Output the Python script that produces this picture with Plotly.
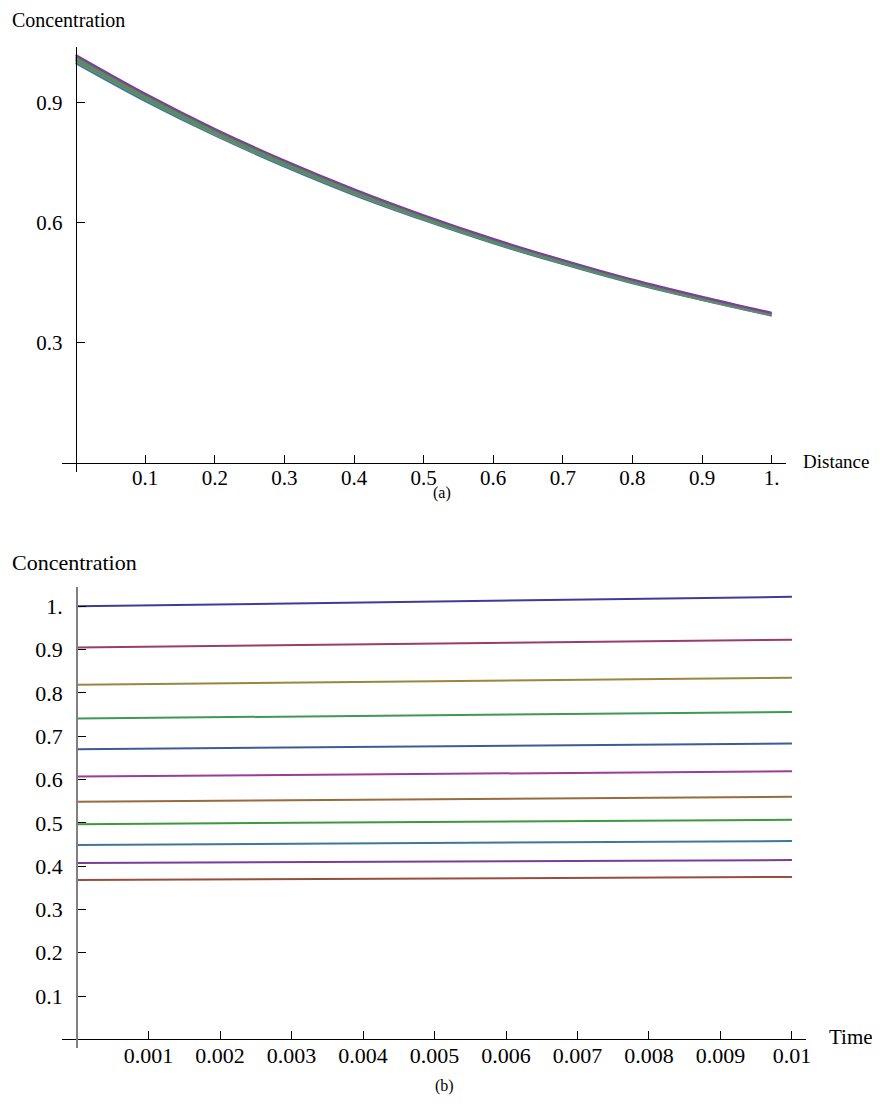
import plotly.graph_objects as go

# ---------------- data ----------------
# Panel (a): concentration vs distance at several times
distance = [0.0, 0.1, 0.2, 0.3, 0.4, 0.5, 0.6, 0.7, 0.8, 0.9, 1.0]
conc_t0000 = [1.000, 0.905, 0.819, 0.741, 0.670, 0.607, 0.549, 0.497, 0.449, 0.407, 0.368]
conc_t0002 = [1.004, 0.909, 0.822, 0.744, 0.673, 0.609, 0.551, 0.499, 0.451, 0.408, 0.369]
conc_t0004 = [1.008, 0.912, 0.826, 0.747, 0.676, 0.612, 0.553, 0.501, 0.453, 0.410, 0.371]
conc_t0006 = [1.012, 0.916, 0.829, 0.750, 0.678, 0.614, 0.556, 0.503, 0.455, 0.411, 0.372]
conc_t0008 = [1.016, 0.920, 0.832, 0.753, 0.681, 0.616, 0.558, 0.505, 0.456, 0.413, 0.374]
conc_t0010 = [1.020, 0.923, 0.835, 0.756, 0.684, 0.619, 0.560, 0.507, 0.458, 0.415, 0.375]
curves_a = [conc_t0000, conc_t0002, conc_t0004, conc_t0006, conc_t0008, conc_t0010]

# Panel (b): concentration vs time at 11 distances
time = [0.0, 0.01]
conc_start = [1.000, 0.905, 0.819, 0.741, 0.670, 0.607, 0.549, 0.497, 0.449, 0.407, 0.368]
conc_end = [1.022, 0.923, 0.835, 0.756, 0.683, 0.619, 0.560, 0.507, 0.458, 0.414, 0.375]

# tick labels
a_xticks = [0.1, 0.2, 0.3, 0.4, 0.5, 0.6, 0.7, 0.8, 0.9, 1.0]
a_xlabels = ["0.1", "0.2", "0.3", "0.4", "0.5", "0.6", "0.7", "0.8", "0.9", "1."]
a_yticks = [0.3, 0.6, 0.9]
a_ylabels = ["0.3", "0.6", "0.9"]
b_xticks = [0.001, 0.002, 0.003, 0.004, 0.005, 0.006, 0.007, 0.008, 0.009, 0.01]
b_xlabels = ["0.001", "0.002", "0.003", "0.004", "0.005", "0.006", "0.007", "0.008", "0.009", "0.01"]
b_yticks = [0.1, 0.2, 0.3, 0.4, 0.5, 0.6, 0.7, 0.8, 0.9, 1.0]
b_ylabels = ["0.1", "0.2", "0.3", "0.4", "0.5", "0.6", "0.7", "0.8", "0.9", "1."]

# ---------------- style ----------------
palette = ["#3d3d99", "#993d6b", "#99873d", "#3d9954", "#3d5a99", "#993d99",
           "#996b3d", "#3d993d", "#3d7899", "#783d99", "#994d3d"]
colors_a = ["#3d7899", "#808080", "#3d9954", "#7a7a7a", "#3d993d", "#803d9e"]
FONT = "Liberation Serif, Times New Roman, serif"

fig = go.Figure()

for c, col in zip(curves_a, colors_a):
    fig.add_trace(go.Scatter(x=distance, y=c, mode="lines", line=dict(color=col, width=2.2, shape="spline"),
                             xaxis="x", yaxis="y", showlegend=False, hoverinfo="skip"))

for i, (s, e) in enumerate(zip(conc_start, conc_end)):
    fig.add_trace(go.Scatter(x=time, y=[s, e], mode="lines", line=dict(color=palette[i % len(palette)], width=2),
                             xaxis="x2", yaxis="y2", showlegend=False, hoverinfo="skip"))

# page has an 8px body margin: window pixel (X, Y) -> figure pixel (X-8, Y-8)
OFF = 8
W, H = 872, 1104

def px(x):
    return (x - OFF) / W

def py(y):
    return 1 - (y - OFF) / H

common = dict(showgrid=False, zeroline=False, showline=True, linecolor="black", linewidth=1,
              ticks="inside", ticklen=8, tickwidth=1, tickcolor="black", anchor="free",
              tickmode="array")

fig.update_layout(
    width=W, height=H, margin=dict(l=0, r=0, t=0, b=0),
    paper_bgcolor="white", plot_bgcolor="white",
    font=dict(family=FONT, color="black"),
    xaxis=dict(**common, domain=[px(62), px(790)], range=[-0.02, 1.02], position=py(462.7),
               tickvals=a_xticks, ticktext=a_xlabels, tickfont=dict(size=21, family=FONT),
               ticklabelstandoff=-4),
    yaxis=dict(**common, domain=[py(471.7), py(47)], range=[-0.0225, 1.04], position=px(76),
               tickvals=a_yticks, ticktext=a_ylabels, tickfont=dict(size=21, family=FONT),
               ticklabelstandoff=9),
    xaxis2=dict(**common, domain=[px(62), px(811)], range=[-0.0002156, 0.010202], position=py(1039.3),
                tickvals=b_xticks, ticktext=b_xlabels, tickfont=dict(size=22, family=FONT),
                ticklabelstandoff=-4),
    yaxis2=dict(**{**common, "linecolor": "#808080", "linewidth": 2},
                domain=[py(1048), py(587.3)], range=[-0.02, 1.044], position=px(77.5),
                tickvals=b_yticks, ticktext=b_ylabels, tickfont=dict(size=22, family=FONT),
                ticklabelstandoff=9),
)

ann = [
    dict(text="Concentration", x=px(10), y=py(20), xanchor="left", yanchor="middle", size=20),
    dict(text="Distance", x=px(806), y=py(462), xanchor="left", yanchor="middle", size=19),
    dict(text="(a)", x=px(445), y=py(493), xanchor="center", yanchor="middle", size=16),
    dict(text="Concentration", x=px(10), y=py(562), xanchor="left", yanchor="middle", size=22),
    dict(text="Time", x=px(832), y=py(1037), xanchor="left", yanchor="middle", size=21),
    dict(text="(b)", x=px(447), y=py(1086), xanchor="center", yanchor="middle", size=16),
]
for a in ann:
    size = a.pop("size")
    fig.add_annotation(xref="paper", yref="paper", showarrow=False,
                       font=dict(family=FONT, color="black", size=size), **a)

fig.write_html("out.html")
